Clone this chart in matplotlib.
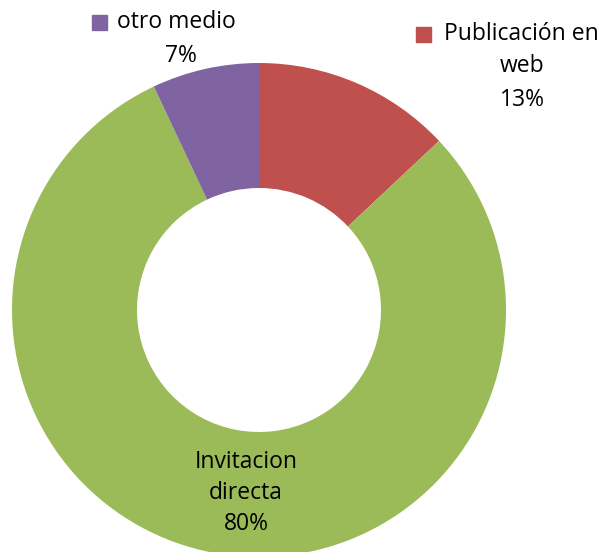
import matplotlib
matplotlib.use("Agg")
import matplotlib.pyplot as plt
from matplotlib.patches import Rectangle

labels = ["Publicación en\nweb", "Invitacion\ndirecta", "otro medio"]
values = [13, 80, 7]
colors = ["#C0504D", "#9BBB59", "#8064A2"]

W, H = 602, 552
fig = plt.figure(figsize=(W / 100, H / 100), dpi=100)
ax = fig.add_axes([0, 0, 1, 1])

cx, cy = 259, H - 310
r_out, r_in = 247, 122

ax.pie(values, colors=colors, startangle=90, counterclock=False,
       radius=r_out, center=(cx, cy), frame=True,
       wedgeprops=dict(width=r_out - r_in, linewidth=0))
ax.set_xlim(0, W)
ax.set_ylim(0, H)
ax.set_aspect("equal")
ax.axis("off")

font = dict(family=["Open Sans", "DejaVu Sans"], fontsize=16.5, color="black")

# otro medio label
ax.add_patch(Rectangle((92, H - 30), 15, 15, color=colors[2], clip_on=False))
ax.text(117, H - 22, "otro medio", ha="left", va="center", **font)
ax.text(181, H - 56, f"{values[2]}%", ha="center", va="center", **font)

# Publicación en web label
ax.add_patch(Rectangle((416, H - 42), 15, 15, color=colors[0], clip_on=False))
ax.text(444, H - 34, "Publicación en", ha="left", va="center", **font)
ax.text(522, H - 66, "web", ha="center", va="center", **font)
ax.text(522, H - 100, f"{values[0]}%", ha="center", va="center", **font)

# Invitacion directa label
ax.text(246, H - 462, "Invitacion", ha="center", va="center", **font)
ax.text(246, H - 493, "directa", ha="center", va="center", **font)
ax.text(246, H - 524, f"{values[1]}%", ha="center", va="center", **font)

fig.savefig("out.png", dpi=100)
